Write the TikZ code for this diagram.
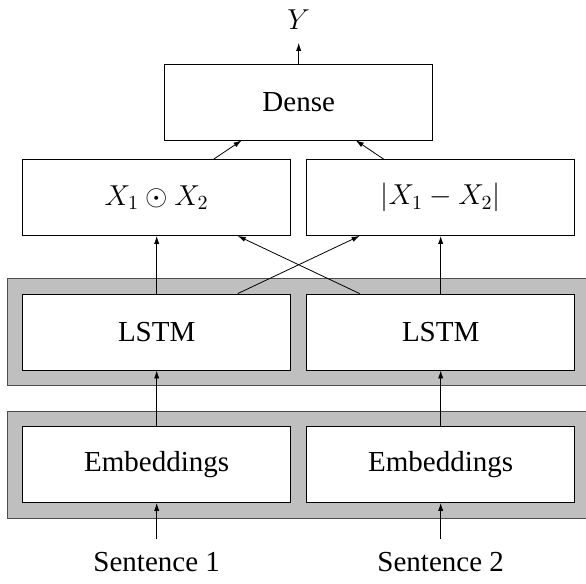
\documentclass[tikz,border=0pt]{standalone}
\usepackage[no-math]{fontspec}
\setmainfont{Liberation Serif}
\usetikzlibrary{arrows.meta,positioning,fit,backgrounds}

\begin{document}
\begin{tikzpicture}[
        x=0.5pt,
        y=-0.5pt,
        font=\fontsize{14.5}{17}\selectfont,
        >={Latex[length=4pt,width=2.6pt]},
        layerbox/.style={draw, fill=white, minimum width=134pt, minimum height=38pt, inner sep=0pt},
        shared/.style={draw=black!70, fill=black!25, inner sep=7.5pt},
        outlabel/.style={inner sep=6.3pt}
    ]
        \useasboundingbox (0,0) rectangle (586,584);

        \node[outlabel] (y) at (298.7,20) {$Y$};
        \node[layerbox] (dense) at (298.7,102) {Dense};

        \node[layerbox] (prod) at (156.7,197.5) {$X_1 \odot X_2$};
        \node[layerbox] (diff) at (440.7,197.5) {$|X_1 - X_2|$};

        \node[layerbox] (lstm1) at (156.7,332) {LSTM};
        \node[layerbox] (lstm2) at (440.7,332) {LSTM};

        \node[layerbox] (emb1) at (156.7,464.5) {Embeddings};
        \node[layerbox] (emb2) at (440.7,464.5) {Embeddings};

        \node[outlabel] (sent1) at (156.7,562) {Sentence 1};
        \node[outlabel] (sent2) at (440.7,562) {Sentence 2};

        % shared weights behind the two branches
        \begin{scope}[on background layer]
            \node[shared, fit=(lstm1)(lstm2)] (lstmband) {};
            \node[shared, fit=(emb1)(emb2)] (embband) {};
        \end{scope}

        \draw[->] (sent1) -- (emb1);
        \draw[->] (sent2) -- (emb2);
        \draw[->] (emb1) -- (lstm1);
        \draw[->] (emb2) -- (lstm2);

        \draw[->] (lstm1) -- (prod);
        \draw[->] (lstm1) -- (diff);
        \draw[->] (lstm2) -- (prod);
        \draw[->] (lstm2) -- (diff);

        \draw[->] (prod) -- (dense);
        \draw[->] (diff) -- (dense);
        \draw[->] (dense) -- (y);
    \end{tikzpicture}
\end{document}
